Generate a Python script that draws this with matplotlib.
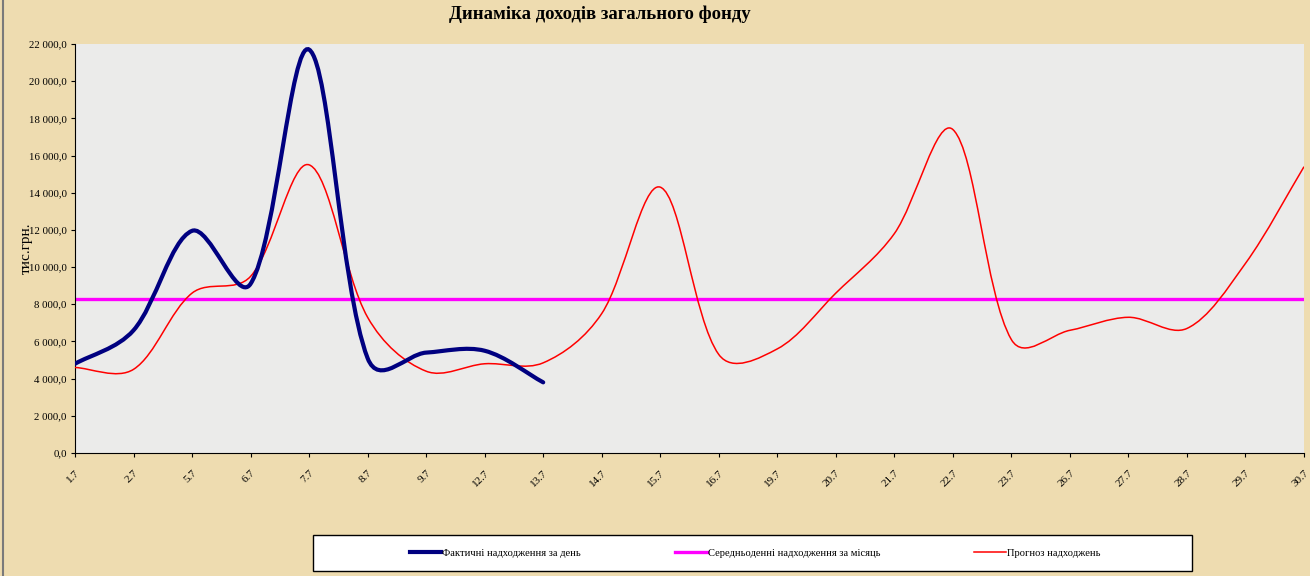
import matplotlib
matplotlib.use("Agg")
from matplotlib import pyplot as plt
from matplotlib.path import Path
from matplotlib.patches import PathPatch, Rectangle
from matplotlib.lines import Line2D
from matplotlib.ticker import FuncFormatter, MultipleLocator

days = ["1.7", "2.7", "5.7", "6.7", "7.7", "8.7", "9.7", "12.7", "13.7", "14.7", "15.7",
        "16.7", "19.7", "20.7", "21.7", "22.7", "23.7", "26.7", "27.7", "28.7", "29.7", "30.7"]
actual = [4800, 6600, 11950, 9100, 21700, 5100, 5400, 5500, 3800]
avg_month = 8270
forecast = [4600, 4500, 8600, 9500, 15500, 7300, 4400, 4800, 4850, 7500, 14300,
            5300, 5600, 8600, 11800, 17400, 6100, 6600, 7300, 6700, 10200, 15400]

serif = "Liberation Serif"
# pixel size of one x step and of one unit on y (used only to shape the smoothing)
SX = 58.5
SY = 409 / 22000


def smooth_path(ys, t=1 / 3, w=0.6):
    # Excel-style smoothed line: cubic Bezier, tangent split partly by neighbour distances
    pts = [(i * SX, v * SY) for i, v in enumerate(ys)]
    n = len(pts)
    dist = [((pts[i + 1][0] - pts[i][0]) ** 2 + (pts[i + 1][1] - pts[i][1]) ** 2) ** 0.5
            for i in range(n - 1)]
    out_c, in_c = [], []
    for i in range(n):
        p = pts[i]
        a = pts[max(i - 1, 0)]
        b = pts[min(i + 1, n - 1)]
        tx, ty = b[0] - a[0], b[1] - a[1]
        d0 = dist[i - 1] if i > 0 else 0.0
        d1 = dist[i] if i < n - 1 else 0.0
        s = d0 + d1
        f0 = t * (w * d0 / s + (1 - w) * 0.5)
        f1 = t * (w * d1 / s + (1 - w) * 0.5)
        in_c.append((p[0] - tx * f0, p[1] - ty * f0))
        out_c.append((p[0] + tx * f1, p[1] + ty * f1))
    verts = [pts[0]]
    codes = [Path.MOVETO]
    for i in range(n - 1):
        verts += [out_c[i], in_c[i + 1], pts[i + 1]]
        codes += [Path.CURVE4] * 3
    verts = [(x / SX, y / SY) for x, y in verts]
    return Path(verts, codes)


def main():
    fig = plt.figure(figsize=(13.1, 5.76), dpi=100, facecolor="#eedcb0")
    ax = fig.add_axes([75 / 1310, 123 / 576, 1229 / 1310, 409 / 576])
    ax.set_facecolor("#ebebea")

    ax.axhline(avg_month, color="#ff00ff", lw=2.4, zorder=2)
    ax.add_patch(PathPatch(smooth_path(forecast), fill=False, edgecolor="#ff0000",
                           lw=1.1, zorder=3))
    ax.add_patch(PathPatch(smooth_path(actual), fill=False, edgecolor="#000080",
                           lw=3.0, capstyle="round", zorder=4))

    ax.set_xlim(0, len(days) - 1)
    ax.set_ylim(0, 22000)
    ax.set_xticks(range(len(days)))
    ax.set_xticklabels(days, rotation=45, ha="right", va="top",
                       rotation_mode="anchor", fontsize=8, family=serif)
    ax.yaxis.set_major_locator(MultipleLocator(2000))
    ax.yaxis.set_major_formatter(FuncFormatter(
        lambda v, p: f"{v:,.1f}".replace(",", " ").replace(".", ",")))
    for lab in ax.get_yticklabels():
        lab.set_family(serif)
        lab.set_fontsize(7.8)
    ax.tick_params(axis="both", direction="out", length=3, width=0.8, colors="black", pad=3)
    ax.tick_params(axis="x", pad=8)
    for s in ["top", "right"]:
        ax.spines[s].set_visible(False)
    for s in ["left", "bottom"]:
        ax.spines[s].set_linewidth(0.8)

    fig.text(26 / 1310, 0.569, "тис.грн.", rotation=90, ha="center", va="center",
             fontsize=11, family=serif)
    fig.text(600 / 1310, 1 - 14 / 576, "Динаміка доходів загального фонду", ha="center",
             va="center", fontsize=13.5, fontweight="bold", family=serif)

    # legend box
    fig.patches.append(Rectangle((313 / 1310, 5 / 576), 879 / 1310, 36 / 576,
                                 transform=fig.transFigure, facecolor="white",
                                 edgecolor="black", lw=1.0, zorder=1))
    handles = [Line2D([], [], color="#000080", lw=3.0),
               Line2D([], [], color="#ff00ff", lw=2.4),
               Line2D([], [], color="#ff0000", lw=1.1)]
    labels = ["Фактичні надходження за день", "Середньоденні надходження за місяць",
              "Прогноз надходжень"]
    fig.legend(handles, labels, loc="center", bbox_to_anchor=(755 / 1310, 23 / 576),
               ncol=3, frameon=False, prop={"family": serif, "size": 7.6},
               handlelength=3.0, handletextpad=0.1, columnspacing=8.9)

    fig.add_artist(Line2D([3 / 1310, 3 / 1310], [0, 1], transform=fig.transFigure,
                          color="#7a7a7a", lw=1.5))

    fig.savefig("out.png", dpi=100, facecolor=fig.get_facecolor())


if __name__ == "__main__":
    main()
